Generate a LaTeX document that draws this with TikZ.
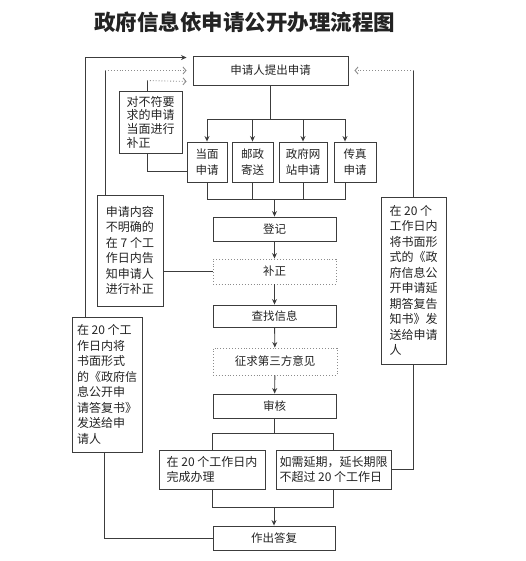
\documentclass[tikz,border=0pt]{standalone}
\usepackage{fontspec}
\setmainfont{Noto Sans CJK SC}
\usepackage{tikz}
\usepackage{xcolor}
\usetikzlibrary{arrows.meta}
\definecolor{linegray}{RGB}{60,60,60}
\definecolor{dotgray}{RGB}{140,140,140}
\definecolor{textgray}{RGB}{35,35,35}

\begin{document}
\begin{tikzpicture}[x=1pt, y=-1pt, >={Stealth[length=5.5pt,width=5pt]},
    box/.style={draw=linegray, line width=0.9pt, text=textgray, inner sep=2pt,
        font=\fontsize{11.5}{15.5}\selectfont, align=center},
    dotbox/.style={box, draw=dotgray, dotted},
    note/.style={box, align=left, font=\fontsize{12}{15.5}\selectfont},
    line/.style={linegray, line width=0.9pt},
    dotline/.style={dotgray, line width=0.9pt, dotted},
    open/.style={-{Straight Barb[length=3pt,width=7pt]}}]
    \useasboundingbox (0,0) rectangle (525,561);

    % Title
    \node[text=textgray, font=\fontsize{21.5}{24}\selectfont\bfseries] (title) at (244.5,22) {政府信息依申请公开办理流程图};

    % Application and its channels
    \node[box, minimum width=155pt, minimum height=29pt] (apply) at (270.5,70.5) {申请人提出申请};
    \node[box, minimum width=40pt, minimum height=40pt] (mode1) at (207,162) {当面\\申请};
    \node[box, minimum width=41pt, minimum height=40pt] (mode2) at (252.5,162) {邮政\\寄送};
    \node[box, minimum width=48pt, minimum height=40pt] (mode3) at (303,162) {政府网\\站申请};
    \node[box, minimum width=42pt, minimum height=40pt] (mode4) at (355,162) {传真\\申请};

    % Main flow
    \node[box, minimum width=123pt, minimum height=24pt] (reg) at (274.5,229) {登记};
    \node[dotbox, minimum width=123pt, minimum height=25pt] (fix2) at (274.5,271.5) {补正};
    \node[box, minimum width=123pt, minimum height=22pt] (search) at (274.5,316) {查找信息};
    \node[dotbox, minimum width=124pt, minimum height=27pt] (third) at (275,361.5) {征求第三方意见};
    \node[box, minimum width=123pt, minimum height=24pt] (audit) at (274.5,406) {审核};
    \node[note, minimum width=106pt, minimum height=39pt] (done20) at (212,469.5) {在 20 个工作日内\\完成办理};
    \node[note, minimum width=115pt, minimum height=39pt] (extend) at (333.5,469.5) {如需延期，延长期限\\不超过 20 个工作日};
    \node[box, minimum width=122pt, minimum height=24pt] (reply) at (274,538) {作出答复};

    % Side notes
    \node[note, font=\fontsize{12}{13.7}\selectfont, minimum width=63pt, minimum height=62pt] (fix1) at (150.5,122)
        {对不符要\\求的申请\\当面进行\\补正};
    \node[note, minimum width=66pt, minimum height=111pt] (unclear) at (130,250.5)
        {申请内容\\不明确的\\在 7 个工\\作日内告\\知申请人\\进行补正};
    \node[note, minimum width=70pt, minimum height=135pt] (notify) at (107,384.5)
        {在 20 个工\\作日内将\\书面形式\\的《政府信\\息公开申\\请答复书》\\发送给申\\请人};
    \node[note, minimum width=65pt, minimum height=167pt] (delay) at (413.5,280.5)
        {在 20 个\\工作日内\\将书面形\\式的《政\\府信息公\\开申请延\\期答复告\\知书》发\\送给申请\\人};

    % Channels
    \draw[line] (apply.south) -- ++(0,34) coordinate (split);
    \draw[line] (mode1.north |- split) -- ([xshift=-10pt]mode4.north |- split);
    \foreach \m in {mode1,mode2,mode3}
        \draw[line, ->] (\m.north |- split) -- (\m.north);
    \draw[line, ->] ([xshift=-10pt]mode4.north |- split) -- ([xshift=-10pt]mode4.north);
    \draw[line] (mode1.south) -- ++(0,17) coordinate (merge) -- ([xshift=-10pt]mode4.south |- merge) -- ([xshift=-10pt]mode4.south);
    \draw[line] (mode2.south) -- (mode2.south |- merge);
    \draw[line] (mode3.south) -- (mode3.south |- merge);
    \draw[line, ->] (reg.north |- merge) -- (reg.north);

    % Main chain
    \draw[line, ->] (reg) -- (fix2);
    \draw[line, ->] (fix2) -- (search);
    \draw[line, ->] (search) -- (third);
    \draw[line, ->] (third) -- (audit);
    \draw[line] (audit.south) -- ++(0,15) coordinate (fork);
    \draw[line] (done20.north) -- (done20.north |- fork) -- (extend.north |- fork) -- (extend.north);
    \draw[line] (done20.south) -- ++(0,18) coordinate (join) -- (extend.south |- join) -- (extend.south);
    \draw[line, ->] (reply.north |- join) -- (reply.north);

    % Left loops
    \draw[line] ([xshift=-3.5pt]fix1.south) |- ([yshift=-9pt]mode1.west);
    \draw[line] ([xshift=-3.5pt]fix1.north) -- ++(0,-10) coordinate (back);
    \draw[dotline, open] (back) -- ([shift={(-6,-4)}]apply.south west);
    \draw[line] (fix2.west) -- (fix2.west -| unclear.east);
    \draw[line] ([xshift=-25pt]unclear.north) -- ([xshift=-25pt]unclear.north |- apply.west);
    \draw[dotline, open] ([xshift=-25pt]unclear.north |- apply.west) -- ([xshift=-6pt]apply.west);
    \draw[line] (reply.west) -| ([xshift=-3pt]notify.south);
    \draw[line, ->] ([xshift=-22pt]notify.north) |- ([shift={(-6,2)}]apply.north west);

    % Right loop
    \draw[line] (extend.east) -| (delay.south);
    \draw[line] (delay.north) -- (delay.north |- apply.east);
    \draw[dotline, open] (delay.north |- apply.east) -- ([xshift=6pt]apply.east);
\end{tikzpicture}
\end{document}
